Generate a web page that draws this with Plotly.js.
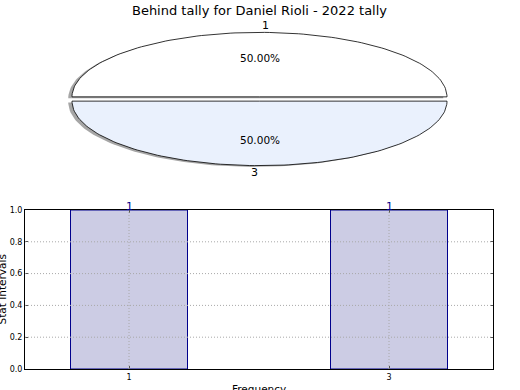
<!DOCTYPE html>
<html>
<head>
<meta charset="utf-8">
<script src="https://cdn.plot.ly/plotly-3.0.1.min.js"></script>
<style>html,body{margin:0;padding:0;background:#fff;}#chart{width:520px;height:390px;}</style>
</head>
<body>
<div id="chart"></div>
<script>
// ---- data ----
const chartTitle = 'Behind tally for Daniel Rioli - 2022 tally';
const pieLabels = ['1', '3'];
const pieValues = [1, 1];
const barCategories = ['1', '3'];
const barValues = [1, 1];
const yTickVals = [0, 0.2, 0.4, 0.6, 0.8, 1.0];
const yTickText = ['0.0', '0.2', '0.4', '0.6', '0.8', '1.0'];
const xTitle = 'Frequency';
const yTitle = 'Stat Intervals';

// ---- styles ----
const pieFill = ['#ffffff', '#eaf1fd'];
const explode = 0.033;
const shadowOff = [-0.02, -0.02];
const FONT = 'DejaVu Sans, sans-serif';
const GRID = {color: '#a8a8a8', width: 1, dash: '1px,2px'};

const traces = [];
const annotations = [];
const shapes = [];
const total = pieValues.reduce((a, b) => a + b, 0);
let theta = 0;
const slices = [];
pieValues.forEach((v, i) => {
  const frac = v / total;
  const t0 = theta, t1 = theta + 2 * Math.PI * frac;
  const mid = (t0 + t1) / 2;
  const ox = explode * Math.cos(mid), oy = explode * Math.sin(mid);
  const xs = [ox], ys = [oy];
  const N = 120;
  for (let k = 0; k <= N; k++) {
    const t = t0 + (t1 - t0) * k / N;
    xs.push(ox + Math.cos(t));
    ys.push(oy + Math.sin(t));
  }
  xs.push(ox); ys.push(oy);
  slices.push({xs, ys, mid, ox, oy, frac, i});
  theta = t1;
});
// shadows first
slices.forEach(s => {
  traces.push({
    type: 'scatter', mode: 'lines', xaxis: 'x2', yaxis: 'y2',
    x: s.xs.map(v => v + shadowOff[0]), y: s.ys.map(v => v + shadowOff[1]),
    fill: 'toself', fillcolor: 'rgba(77,77,77,0.5)', line: {width: 0},
    hoverinfo: 'skip', showlegend: false
  });
});
slices.forEach(s => {
  traces.push({
    type: 'scatter', mode: 'lines', xaxis: 'x2', yaxis: 'y2',
    x: s.xs, y: s.ys,
    fill: 'toself', fillcolor: pieFill[s.i % pieFill.length],
    line: {color: '#000', width: 0.8},
    hoverinfo: 'skip', showlegend: false
  });
  const lx = s.ox + 1.1 * Math.cos(s.mid), ly = s.oy + 1.1 * Math.sin(s.mid);
  annotations.push({
    xref: 'x2', yref: 'y2', x: lx, y: ly, text: pieLabels[s.i],
    showarrow: false, xanchor: lx > 0 ? 'left' : 'right', yanchor: 'middle',
    font: {family: FONT, size: 11, color: '#000'}
  });
  annotations.push({
    xref: 'x2', yref: 'y2', x: s.ox + 0.6 * Math.cos(s.mid), y: s.oy + 0.6 * Math.sin(s.mid),
    text: (s.frac * 100).toFixed(2) + '%',
    showarrow: false, xanchor: 'center', yanchor: 'middle',
    font: {family: FONT, size: 10.5, color: '#000'}
  });
});

traces.push({
  type: 'bar', x: barCategories, y: barValues, width: 0.45,
  marker: {color: 'rgb(204,204,228)', line: {color: 'rgb(0,0,140)', width: 1}},
  hoverinfo: 'skip', showlegend: false
});
barCategories.forEach((c, i) => {
  annotations.push({
    xref: 'x', yref: 'y', x: i, y: barValues[i], text: String(barValues[i]),
    showarrow: false, xanchor: 'center', yanchor: 'middle', yshift: 4,
    font: {family: FONT, size: 11, color: 'rgb(0,0,140)'}
  });
  shapes.push({type: 'line', xref: 'x', yref: 'paper', x0: i, x1: i,
    y0: 21 / 390, y1: 180 / 390, layer: 'above', line: GRID});
});
yTickVals.forEach(v => {
  if (v > 0 && v < 1) {
    shapes.push({type: 'line', xref: 'paper', yref: 'y', x0: 25 / 520, x1: 493 / 520,
      y0: v, y1: v, layer: 'above', line: GRID});
  }
});
// axis titles
annotations.push({
  xref: 'paper', yref: 'paper', x: 259 / 520, y: 1 / 390, text: xTitle,
  showarrow: false, xanchor: 'center', yanchor: 'middle',
  font: {family: FONT, size: 10.5, color: '#000'}
});
annotations.push({
  xref: 'paper', yref: 'paper', x: 1 / 520, y: (390 - 289.5) / 390, text: yTitle,
  textangle: -90, showarrow: false, xanchor: 'center', yanchor: 'middle',
  font: {family: FONT, size: 10.5, color: '#000'}
});

const layout = {
  width: 520, height: 390,
  margin: {l: 0, r: 0, t: 0, b: 0},
  paper_bgcolor: '#fff', plot_bgcolor: 'rgba(0,0,0,0)',
  font: {family: FONT, color: '#000'},
  showlegend: false,
  title: {text: chartTitle, font: {family: FONT, size: 13, color: '#000'},
    x: 259.5 / 520, xanchor: 'center', y: 1 - 10 / 390, yanchor: 'middle', xref: 'paper', yref: 'paper'},
  xaxis: {
    domain: [25 / 520, 493 / 520], anchor: 'y', type: 'category',
    range: [-0.4, 1.4], showline: true, linecolor: '#000', linewidth: 1, mirror: 'ticks',
    ticks: 'inside', ticklen: 3, tickcolor: '#555', showgrid: false,
    tickfont: {family: FONT, size: 8, color: '#000'},
    fixedrange: true
  },
  yaxis: {
    domain: [21 / 390, 180 / 390], anchor: 'x',
    range: [0, 1], tickvals: yTickVals, ticktext: yTickText,
    showline: true, linecolor: '#000', linewidth: 1, mirror: 'ticks',
    ticks: 'inside', ticklen: 3, tickcolor: '#555',
    showgrid: false, zeroline: false,
    tickfont: {family: FONT, size: 8, color: '#000'},
    fixedrange: true
  },
  xaxis2: {
    domain: [0, 1], anchor: 'y2', range: [-259.5 / 187.5, 260.5 / 187.5],
    visible: false, fixedrange: true
  },
  yaxis2: {
    domain: [0.5, 1], anchor: 'x2', range: [(99 - 195) / 64.5, 99 / 64.5],
    visible: false, fixedrange: true
  },
  shapes: shapes,
  annotations: annotations
};

Plotly.newPlot('chart', traces, layout, {displayModeBar: false, staticPlot: true});
</script>
</body>
</html>
